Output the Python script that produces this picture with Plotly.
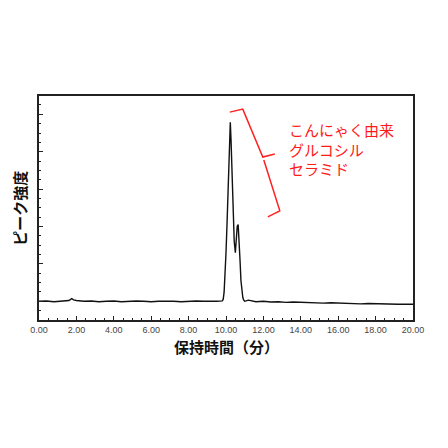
import plotly.graph_objects as go

# Retention time (min) and peak intensity
time_min = [0.0, 0.4, 0.8, 1.2, 1.6, 1.75, 1.85, 2.0, 2.4, 2.8, 3.2, 3.6, 4.0, 4.4, 4.8,
            5.2, 5.6, 6.0, 6.4, 6.8, 7.2, 7.6, 8.0, 8.4, 8.8, 9.2, 9.5, 9.8, 9.85,
            9.90, 9.95, 10.00, 10.05, 10.10, 10.15, 10.20, 10.23, 10.27, 10.32, 10.38,
            10.44, 10.50, 10.55, 10.60, 10.65, 10.70, 10.75, 10.80, 10.85, 10.90, 10.95,
            11.00, 11.2, 11.4, 11.6, 12.0, 12.4, 12.8, 13.2, 13.6, 14.0, 14.4, 14.8, 15.2,
            15.6, 16.0, 16.4, 16.8, 17.2, 17.6, 18.0, 18.4, 18.8, 19.2, 19.6, 20.0]
intensity = [0.0, 0.01, -0.01, 0.01, 0.02, 0.07, 0.04, 0.02, 0.0, 0.01, -0.01, 0.0, 0.01,
             -0.01, 0.0, 0.01, 0.0, -0.01, 0.0, 0.01, 0.0, -0.01, 0.0, 0.01, 0.0, -0.01,
             0.0, 0.01, 0.05, 0.25, 0.7, 1.3, 2.0, 2.9, 3.9, 4.6, 4.79, 4.3, 3.3, 2.3,
             1.6, 1.3, 1.7, 2.0, 2.05, 1.7, 1.1, 0.55, 0.25, 0.1, 0.03, 0.0, 0.03, 0.0,
             -0.01, 0.0, -0.02, -0.01, -0.03, -0.02, -0.03, -0.04, -0.03, -0.05, -0.04,
             -0.05, -0.06, -0.05, -0.07, -0.06, -0.07, -0.08, -0.07, -0.08, -0.08, -0.08]

x_ticks = [0, 2, 4, 6, 8, 10, 12, 14, 16, 18, 20]
x_tick_labels = ["0.00", "2.00", "4.00", "6.00", "8.00", "10.00", "12.00",
                 "14.00", "16.00", "18.00", "20.00"]
x_title = "保持時間（分）"
y_title = "ピーク強度"
peak_label = "こんにゃく由来<br>グルコシル<br>セラミド"

fig = go.Figure()
fig.add_trace(go.Scatter(x=time_min, y=intensity, mode="lines",
                         line=dict(color="#111111", width=1.4), showlegend=False))

# bracket pointing at the peak (in data coords)
def px(xp, yp):
    return ((xp - 39.5) / 373.5 * 20, (301.7 - yp) / 37.5)

up = [px(230, 112), px(243, 109), px(263, 157), px(275, 154)]
lo = [px(264, 160), px(280, 211), px(268, 217)]
for pts in (up, lo):
    path = "M " + " L ".join(f"{a},{b}" for a, b in pts)
    fig.add_shape(type="path", path=path, xref="x", yref="y",
                  line=dict(color="#ff2020", width=1.5))

fig.add_annotation(x=px(287, 0)[0], y=px(0, 149)[1], xref="x", yref="y",
                   text=peak_label, showarrow=False, xanchor="left", yanchor="middle",
                   align="left", font=dict(family="Noto Sans CJK JP", size=15, color="#ff1a1a"))

fig.add_annotation(x=0.5, y=-0.12, xref="paper", yref="paper", text=x_title,
                   showarrow=False, xanchor="center", yanchor="middle",
                   font=dict(family="Noto Sans CJK JP", size=15, color="#111111", weight="bold"))
fig.add_annotation(x=-0.054, y=0.5, xref="paper", yref="paper", text=y_title,
                   textangle=-90, showarrow=False, xanchor="center", yanchor="middle",
                   font=dict(family="Noto Sans CJK JP", size=15, color="#111111", weight="bold"))

fig.update_xaxes(range=[0, 20], tickmode="array", tickvals=x_ticks, ticktext=x_tick_labels,
                 ticks="inside", ticklen=4, tickwidth=1, tickcolor="#222",
                 minor=dict(dtick=0.5, ticks="inside", ticklen=2, tickcolor="#222"),
                 showline=True, linecolor="#222", linewidth=1.5, mirror=True,
                 showgrid=False, zeroline=False,
                 tickfont=dict(family="Arial", size=9, color="#444"))
fig.update_yaxes(range=[-0.5, 5.49], tickmode="linear", tick0=0, dtick=1,
                 showticklabels=False, ticks="inside", ticklen=4, tickwidth=1, tickcolor="#222",
                 minor=dict(dtick=0.25, ticks="inside", ticklen=2, tickcolor="#222"),
                 showline=True, linecolor="#222", linewidth=1.5, mirror=True,
                 showgrid=False, zeroline=False)

fig.update_layout(width=440, height=440, margin=dict(l=31, r=35, t=88, b=128),
                  plot_bgcolor="white", paper_bgcolor="white")
fig.write_html("out.html")
